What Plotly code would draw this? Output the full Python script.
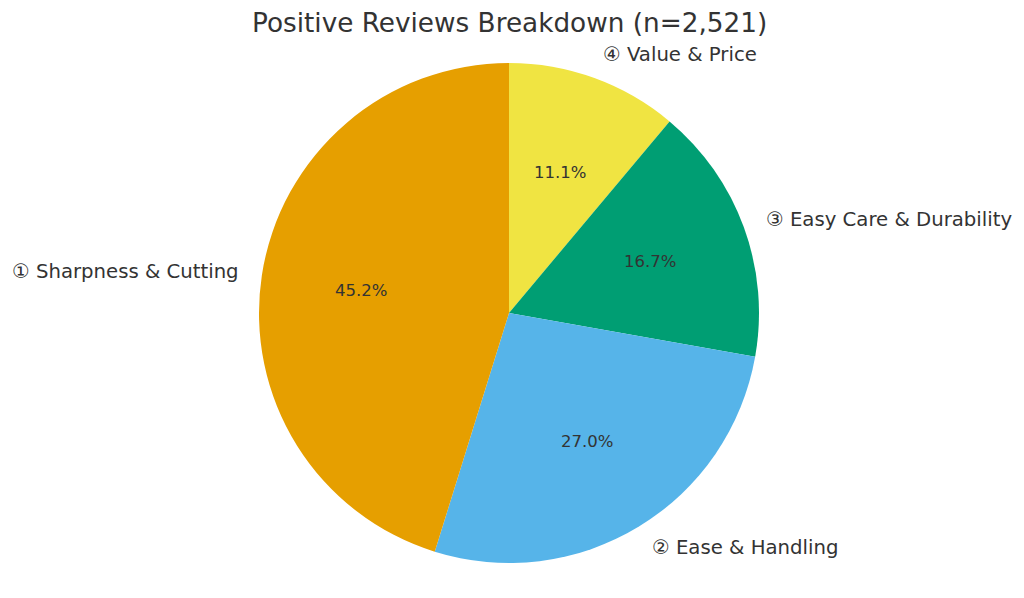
import math
import plotly.graph_objects as go

categories = ["① Sharpness & Cutting", "② Ease & Handling", "③ Easy Care & Durability", "④ Value & Price"]
percents = [45.2, 27.0, 16.7, 11.1]
colors = ["#E69F00", "#56B4E9", "#009E73", "#F0E442"]
title = "Positive Reviews Breakdown (n=2,521)"

W, H = 1024, 598
OFF = 8  # default page body margin
CX, CY, R = 509 - OFF, 313 - OFF, 250
TEXT = "#333333"

# matplotlib-style counterclockwise order from 12 o'clock == clockwise with reversed order
fig = go.Figure(go.Pie(
    labels=categories[::-1], values=percents[::-1], sort=False, direction="clockwise",
    rotation=0, marker=dict(colors=colors[::-1], line=dict(width=0)), textinfo="none",
    hoverinfo="label+percent", showlegend=False,
    domain=dict(x=[(CX - R) / W, (CX + R) / W], y=[(H - CY - R) / H, (H - CY + R) / H]),
))

total = sum(percents)
start = 90.0
annotations = []
for lab, v in zip(categories, percents):
    span = 360.0 * v / total
    mid = math.radians(start + span / 2)
    start += span
    c, s = math.cos(mid), math.sin(mid)
    lx, ly = CX + 1.09 * R * c, CY - 1.1 * R * s
    annotations.append(dict(x=lx / W, y=1 - ly / H, xref="paper", yref="paper", borderpad=0,
                            text=lab, showarrow=False, xanchor="left" if c > 0 else "right",
                            yanchor="middle", font=dict(size=19.7, color=TEXT, family="DejaVu Sans")))
    px, py = CX + 0.6 * R * c, CY - 0.6 * R * s
    annotations.append(dict(x=px / W, y=1 - py / H, xref="paper", yref="paper", borderpad=0,
                            text=f"{v:.1f}%", showarrow=False, xanchor="center",
                            yanchor="middle", font=dict(size=16.5, color=TEXT, family="DejaVu Sans")))

annotations.append(dict(x=(509.5 - OFF) / W, y=1 - (23 - OFF) / H, xref="paper", yref="paper", text=title,
                        showarrow=False, xanchor="center", yanchor="middle", borderpad=0,
                        font=dict(size=26.3, color=TEXT, family="DejaVu Sans")))

fig.update_layout(width=W, height=H, margin=dict(l=0, r=0, t=0, b=0),
                  paper_bgcolor="white", plot_bgcolor="white", annotations=annotations)
fig.write_html("out.html")
